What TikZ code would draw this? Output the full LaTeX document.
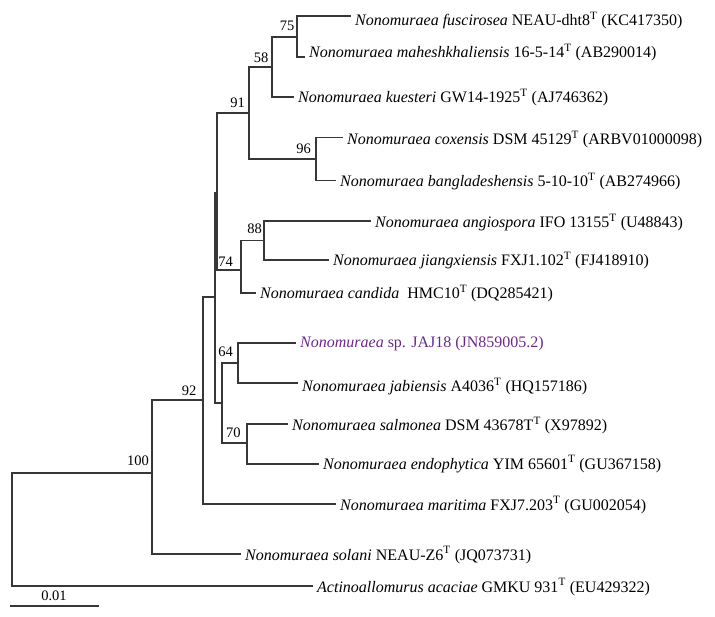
\documentclass[tikz,border=0pt]{standalone}
\usepackage{fontspec}
\setmainfont{Liberation Serif}
\definecolor{jajcol}{RGB}{106,40,140}
\definecolor{brcol}{RGB}{55,55,55}
\begin{document}
\begin{tikzpicture}[x=1pt,y=-1pt,
  br/.style={draw=brcol, line width=1.2pt, line cap=rect},
  leaf/.style={anchor=base west, inner sep=0pt, xshift=5pt, font=\fontsize{16}{18}\selectfont},
  boot/.style={inner sep=0pt, font=\fontsize{14.5}{16}\selectfont},
]
\useasboundingbox (0,0) rectangle (715,617);
% internal nodes
\coordinate (root) at (12,529);
\coordinate (n100) at (152,473);
\coordinate (n92) at (203,400);
\coordinate (nC) at (215,297);
\coordinate (nA) at (217,193);
\coordinate (n91) at (249,113);
\coordinate (n58) at (272,67);
\coordinate (n75) at (297,37);
\coordinate (n96) at (316,159);
\coordinate (n74) at (241,270);
\coordinate (n88) at (264,240.5);
\coordinate (nB) at (222,403);
\coordinate (n64) at (238,363);
\coordinate (n70) at (247,443);
% leaf ends
\coordinate (e1) at (350,16);
\coordinate (e2) at (304,57);
\coordinate (e3) at (293,97);
\coordinate (e4) at (342,137.5);
\coordinate (e5) at (335,180.5);
\coordinate (e6) at (370,221);
\coordinate (e7) at (328,260);
\coordinate (e8) at (255,293);
\coordinate (e9) at (295,343);
\coordinate (e10) at (297,383);
\coordinate (e11) at (287,424);
\coordinate (e12) at (318,464);
\coordinate (e13) at (335,504);
\coordinate (e14) at (240,554);
\coordinate (e15) at (312,586);
% branches
\draw[br] (e1) -| (n75) |- (e2);
\draw[br] (n75) -| (n58) |- (e3);
\draw[br] (n58) -| (n91) |- (n96);
\draw[br] (e4) -| (n96) |- (e5);
\draw[br] (e6) -| (n88) |- (e7);
\draw[br] (n88) -| (n74) |- (e8);
\draw[br] (n91) -| (nA) |- (n74);
\draw[br] (e9) -| (n64) |- (e10);
\draw[br] (e11) -| (n70) |- (e12);
\draw[br] (n64) -| (nB) |- (n70);
\draw[br] (nA) -| (nC) |- (nB);
\draw[br] (nC) -| (n92) |- (e13);
\draw[br] (n92) -| (n100) |- (e14);
\draw[br] (n100) -| (root) |- (e15);
% leaf labels
\node[leaf, yshift=-10pt] (t1) at (e1) {\textit{Nonomuraea fuscirosea} NEAU-dht8\textsuperscript{T} (KC417350)};
\node[leaf, yshift=-1pt] (t2) at (e2) {\textit{Nonomuraea maheshkhaliensis} 16-5-14\textsuperscript{T} (AB290014)};
\node[leaf, yshift=-5.5pt] (t3) at (e3) {\textit{Nonomuraea kuesteri} GW14-1925\textsuperscript{T} (AJ746362)};
\node[leaf, yshift=-7pt] (t4) at (e4) {\textit{Nonomuraea coxensis} DSM 45129\textsuperscript{T} (ARBV01000098)};
\node[leaf, yshift=-6.5pt] (t5) at (e5) {\textit{Nonomuraea bangladeshensis} 5-10-10\textsuperscript{T} (AB274966)};
\node[leaf, yshift=-6.5pt] (t6) at (e6) {\textit{Nonomuraea angiospora} IFO 13155\textsuperscript{T} (U48843)};
\node[leaf, yshift=-6pt] (t7) at (e7) {\textit{Nonomuraea jiangxiensis} FXJ1.102\textsuperscript{T} (FJ418910)};
\node[leaf, yshift=-6pt] (t8) at (e8) {\textit{Nonomuraea candida}\ \ HMC10\textsuperscript{T} (DQ285421)};
\node[leaf, yshift=-5pt, text=jajcol] (t9) at (e9) {\textit{Nonomuraea} sp. JAJ18 (JN859005.2)};
\node[leaf, yshift=-8.5pt] (t10) at (e10) {\textit{Nonomuraea jabiensis} A4036\textsuperscript{T} (HQ157186)};
\node[leaf, yshift=-7pt] (t11) at (e11) {\textit{Nonomuraea salmonea} DSM 43678T\textsuperscript{T} (X97892)};
\node[leaf, yshift=-5pt] (t12) at (e12) {\textit{Nonomuraea endophytica} YIM 65601\textsuperscript{T} (GU367158)};
\node[leaf, yshift=-6pt] (t13) at (e13) {\textit{Nonomuraea maritima} FXJ7.203\textsuperscript{T} (GU002054)};
\node[leaf, yshift=-6pt] (t14) at (e14) {\textit{Nonomuraea solani} NEAU-Z6\textsuperscript{T} (JQ073731)};
\node[leaf, yshift=-6pt] (t15) at (e15) {\textit{Actinoallomurus acaciae} GMKU 931\textsuperscript{T} (EU429322)};
% bootstrap values
\node[boot] (b75) at (287,26) {75};
\node[boot] (b58) at (261,57.5) {58};
\node[boot] (b91) at (237.5,103) {91};
\node[boot] (b96) at (303.5,149) {96};
\node[boot] (b88) at (254.5,229) {88};
\node[boot] (b74) at (225.5,262) {74};
\node[boot] (b64) at (225.5,351.7) {64};
\node[boot] (b70) at (233.3,433) {70};
\node[boot] (b92) at (189,390.5) {92};
\node[boot] (b100) at (138,460.5) {100};
% scale bar
\coordinate (s1) at (10,606);
\coordinate (s2) at (99,606);
\draw[br, line cap=butt] (s1) -- (s2);
\node[boot] (sl) at (54,596) {0.01};
\end{tikzpicture}
\end{document}
